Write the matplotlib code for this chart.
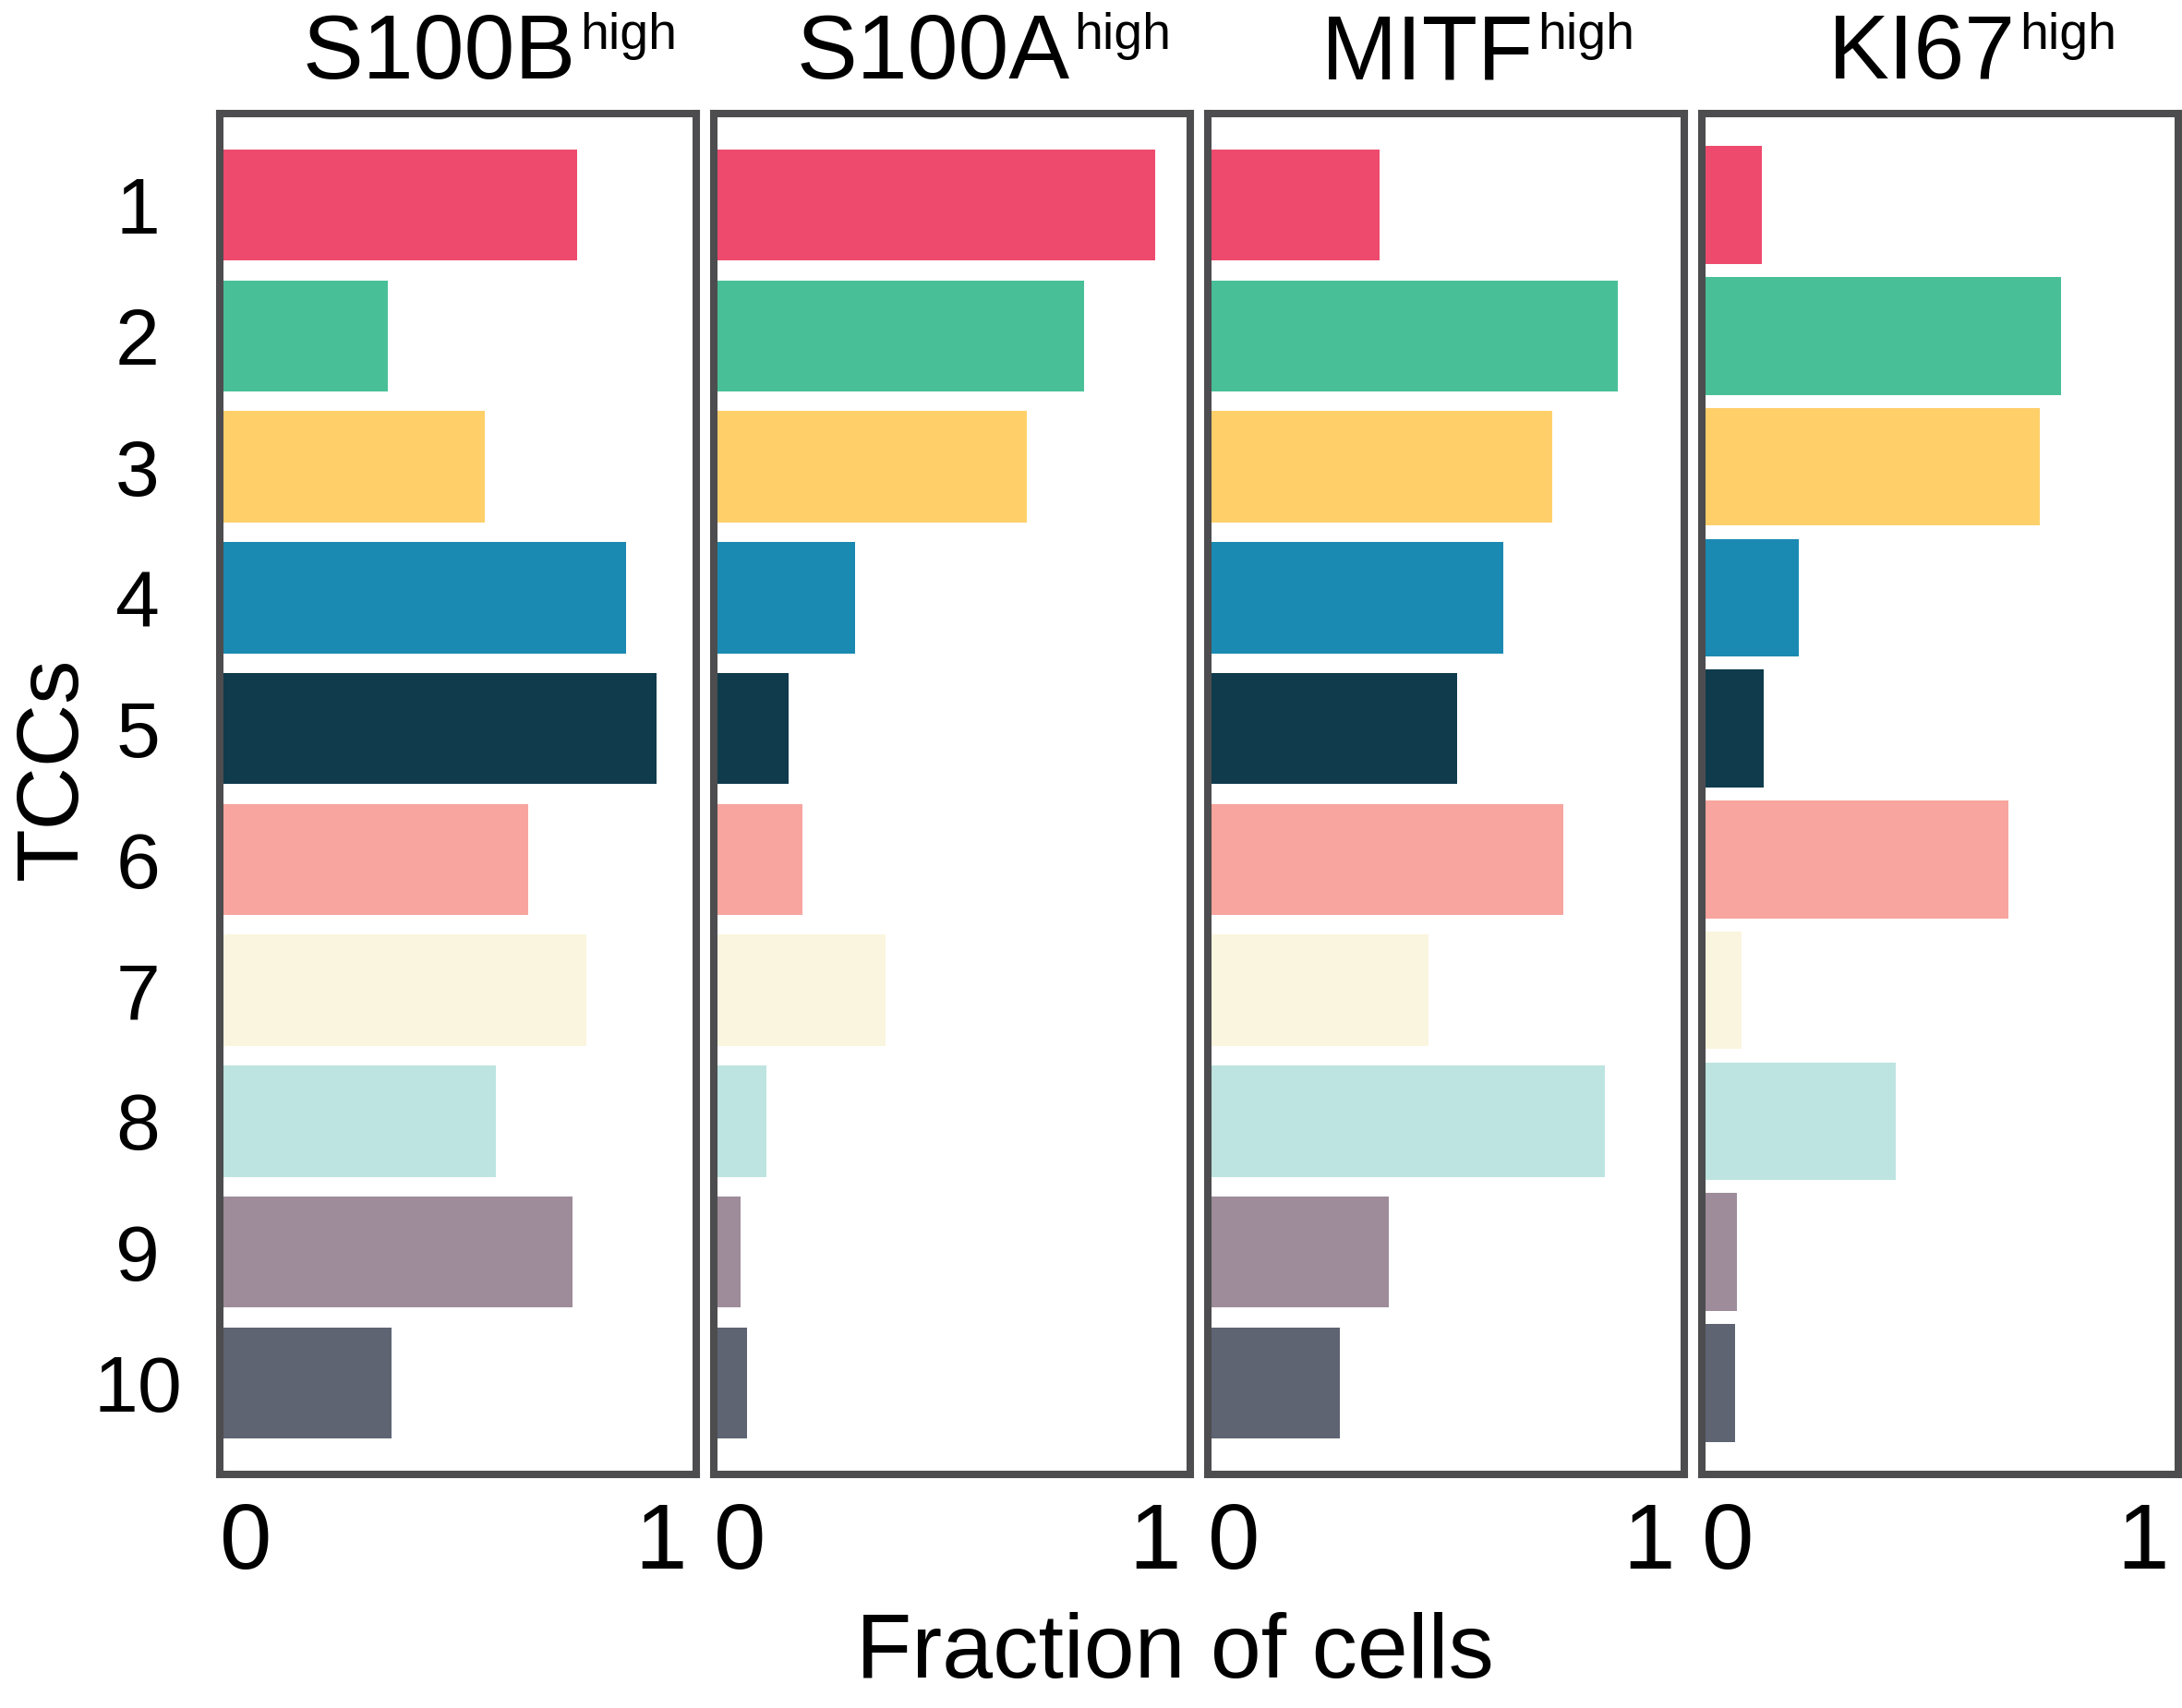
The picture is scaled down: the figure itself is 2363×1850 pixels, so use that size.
import matplotlib
matplotlib.use('Agg')
import matplotlib.pyplot as plt

plt.rcParams['font.family'] = ['Liberation Sans', 'DejaVu Sans']

# ---- data ----
tccs = [1, 2, 3, 4, 5, 6, 7, 8, 9, 10]
markers = ['S100B', 'S100A', 'MITF', 'KI67']

s100b = [0.81, 0.38, 0.60, 0.92, 0.99, 0.70, 0.83, 0.625, 0.80, 0.39]
s100a = [1.00, 0.84, 0.71, 0.32, 0.17, 0.20, 0.39, 0.12, 0.06, 0.075]
mitf = [0.39, 0.93, 0.78, 0.67, 0.565, 0.805, 0.50, 0.90, 0.41, 0.30]
ki67 = [0.135, 0.815, 0.765, 0.22, 0.14, 0.695, 0.09, 0.44, 0.08, 0.075]
panels = [s100b, s100a, mitf, ki67]

tcc_colors = ['#EE4A6E', '#49BF98', '#FFD06A', '#1B8AB2', '#0F3B4C',
              '#F7A59E', '#FAF5DF', '#BDE4E0', '#9E8C9A', '#5E6472']
bar_h = [0.85, 0.85, 0.85, 0.9]

frame_col = '#4D4D4F'
W, H, DPI = 2363, 1850, 200

fig = plt.figure(figsize=(W / DPI, H / DPI), dpi=DPI)

left0 = 238 / W
ax_w = 516 / W
step = 535 / W
bottom = 1 - 1597 / H
ax_h = 1474 / H

axes = []
for i, vals in enumerate(panels):
    ax = fig.add_axes([left0 + i * step, bottom, ax_w, ax_h])
    ax.barh(tccs, vals, height=bar_h[i], color=tcc_colors, linewidth=0)
    ax.set_xlim(0, 1.08)
    ax.set_ylim(10.7, 0.3)
    for sp in ax.spines.values():
        sp.set_color(frame_col)
        sp.set_linewidth(2.9)
    ax.set_xticks([0, 1])
    ax.set_xticklabels(['0', '1'], fontsize=36.5)
    ax.get_xticklabels()[0].set_ha('left')
    ax.tick_params(axis='x', length=0, pad=10.4)
    if i == 0:
        ax.set_yticks(tccs)
        ax.set_yticklabels([str(t) for t in tccs], fontsize=31)
        for lab in ax.get_yticklabels():
            lab.set_ha('center')
        ax.tick_params(axis='y', length=0, pad=32)
    else:
        ax.set_yticks([])
    axes.append(ax)

# titles: marker name with a "high" superscript
r = fig.canvas.get_renderer()
title_y = 1 + 38 / 1474
for ax, name in zip(axes, markers):
    t1 = ax.text(0, title_y, name, fontsize=35.5, ha='right', va='baseline',
                 transform=ax.transAxes)
    t2 = ax.annotate('high', xy=(0, title_y), xycoords='axes fraction',
                     xytext=(1.5, 11.5), textcoords='offset points',
                     fontsize=20, ha='left', va='baseline')
    w_ax = ax.get_window_extent(r).width
    w1 = t1.get_window_extent(r).width / w_ax
    w2 = t2.get_window_extent(r).width / w_ax
    gap = 1.5 / 72 * DPI / w_ax
    xj = 0.567 - (gap + w2 - w1) / 2
    t1.set_x(xj)
    t2.xy = (xj, title_y)

fig.text(1272 / W, 1 - 1817 / H, 'Fraction of cells', fontsize=35.5,
         ha='center', va='baseline')
fig.text(83 / W, 1 - 832 / H, 'TCCs', fontsize=34, rotation=90,
         rotation_mode='anchor', ha='center', va='baseline')

fig.savefig('out.png', dpi=DPI)
